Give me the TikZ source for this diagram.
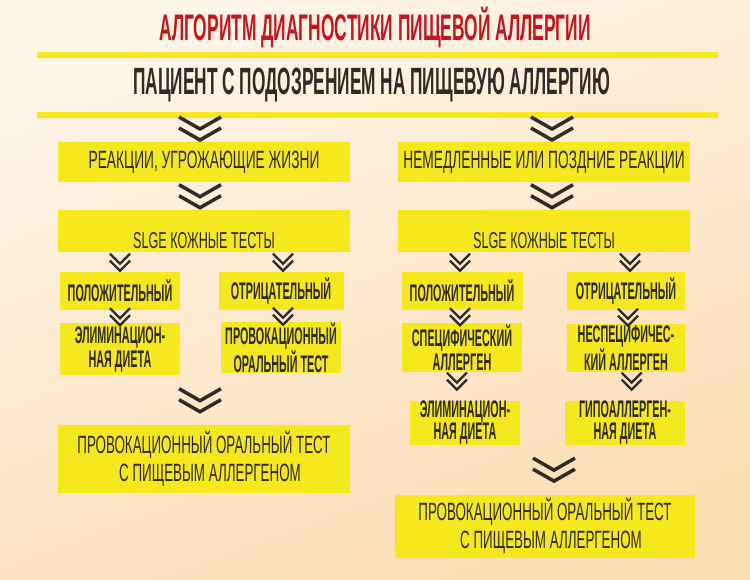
\documentclass[tikz,border=0pt]{standalone}
\usepackage{fontspec}
\usetikzlibrary{positioning,calc}

\newfontfamily\headfont{Liberation Sans}[FakeStretch=0.47]
\newfontfamily\patfont{Liberation Sans}[FakeStretch=0.455]
\newfontfamily\boldfont{Liberation Sans}[FakeStretch=0.45]
\newfontfamily\plainfont{Liberation Sans}[FakeStretch=0.55]
\newfontfamily\finalfont{Liberation Sans}[FakeStretch=0.535]

\definecolor{alyellow}{HTML}{F5E91E}
\definecolor{alink}{HTML}{2F2A26}
\definecolor{alred}{HTML}{C8141E}
\definecolor{bgtop}{HTML}{FDF5E8}
\definecolor{bgbot}{HTML}{FCDDB5}

\begin{document}
\begin{tikzpicture}[x=1pt, y=-1pt, inner sep=0pt]

    \tikzstyle{headtxt} = [text=alink, font=\headfont\bfseries\fontsize{37}{37}\selectfont]
    \tikzstyle{bar}     = [draw=alyellow, line width=6pt]
    \tikzstyle{bigbox}  = [rectangle, fill=alyellow, text=alink, align=center, minimum width=292pt, minimum height=40pt, font=\plainfont\fontsize{25}{28}\selectfont]
    \tikzstyle{testbox} = [bigbox, minimum height=0pt, text height=34pt, text depth=0pt, inner ysep=4pt, font=\plainfont\fontsize{23}{26}\selectfont]
    \tikzstyle{smallbox} = [rectangle, fill=alyellow, text=alink, align=center, minimum height=38pt, font=\boldfont\bfseries\fontsize{24}{24}\selectfont]
    \tikzstyle{tightbox} = [smallbox, font=\boldfont\bfseries\fontsize{24}{22}\selectfont]
    \tikzstyle{finalbox} = [bigbox, minimum height=68pt, font=\finalfont\fontsize{25}{28}\selectfont]

    \tikzset{bigchev/.pic={\draw[alink, line width=3.5pt] (-21,-11.5) -- (0,0.5) -- (21,-11.5) (-21,-0.5) -- (0,11.5) -- (21,-0.5);},
             smallchev/.pic={\draw[alink, line width=2.3pt] (-10,-8.5) -- (0,1.5) -- (10,-8.5) (-10,-1.5) -- (0,8.5) -- (10,-1.5);}}

    % background
    \shade[top color=bgtop, bottom color=bgbot, shading angle=20] (0,0) rectangle (750,579);
    \useasboundingbox (0,0) rectangle (750,579);

    \node (title)   [headtxt, text=alred]                                    at (375,27)    {АЛГОРИТМ ДИАГНОСТИКИ ПИЩЕВОЙ АЛЛЕРГИИ};
    \node (patient) [headtxt, minimum width=681pt, minimum height=60pt, font=\patfont\bfseries\fontsize{38}{38}\selectfont] at (377.5,85) {\hspace*{-12pt}ПАЦИЕНТ С ПОДОЗРЕНИЕМ НА ПИЩЕВУЮ АЛЛЕРГИЮ};
    \draw[bar] (patient.north west) -- (patient.north east);
    \draw[bar] (patient.south west) -- (patient.south east);

    % left branch
    \node (lreact)  [bigbox]                                                 at (204,162)   {РЕАКЦИИ, УГРОЖАЮЩИЕ ЖИЗНИ};
    \node (ltest)   [testbox, below=28pt of lreact]                                         {SLGE КОЖНЫЕ ТЕСТЫ};
    \node (lpos)    [smallbox, minimum width=120pt]                          at (120,291)   {ПОЛОЖИТЕЛЬНЫЙ};
    \node (lneg)    [smallbox, minimum width=125pt]                          at (281,291)   {ОТРИЦАТЕЛЬНЫЙ};
    \node (lelim)   [smallbox, minimum width=120pt, minimum height=52pt, below=13pt of lpos] {ЭЛИМИНАЦИОН-\\НАЯ ДИЕТА};
    \node (lprov)   [smallbox, minimum width=120pt, minimum height=51pt, below=12pt of lneg] {ПРОВОКАЦИОННЫЙ\\ОРАЛЬНЫЙ ТЕСТ};
    \node (lfinal)  [finalbox]                                               at (204,459)   {ПРОВОКАЦИОННЫЙ ОРАЛЬНЫЙ ТЕСТ\\\hspace*{12pt}С ПИЩЕВЫМ АЛЛЕРГЕНОМ};

    % right branch
    \node (rreact)  [bigbox]                                                 at (544,162)   {НЕМЕДЛЕННЫЕ ИЛИ ПОЗДНИЕ РЕАКЦИИ};
    \node (rtest)   [testbox, below=28pt of rreact]                                         {SLGE КОЖНЫЕ ТЕСТЫ};
    \node (rpos)    [smallbox, minimum width=121pt]                          at (462,291)   {ПОЛОЖИТЕЛЬНЫЙ};
    \node (rneg)    [smallbox, minimum width=118pt]                          at (626,291)   {ОТРИЦАТЕЛЬНЫЙ};
    \node (rspec)   [smallbox, minimum width=120pt, minimum height=49pt, below=13pt of rpos] {СПЕЦИФИЧЕСКИЙ\\АЛЛЕРГЕН};
    \node (rnon)    [smallbox, minimum width=118pt, minimum height=48pt, below=14pt of rneg] {НЕСПЕЦИФИЧЕС-\\КИЙ АЛЛЕРГЕН};
    \node (relim)   [tightbox, minimum width=110pt, minimum height=39pt]     at (465,423)   {ЭЛИМИНАЦИОН-\\НАЯ ДИЕТА};
    \node (rhypo)   [tightbox, minimum width=120pt, minimum height=39pt]     at (625,423)   {ГИПОАЛЛЕРГЕН-\\НАЯ ДИЕТА};
    \node (rfinal)  [finalbox, minimum width=300pt, minimum height=63pt]     at (545,526)   {ПРОВОКАЦИОННЫЙ ОРАЛЬНЫЙ ТЕСТ\\\hspace*{12pt}С ПИЩЕВЫМ АЛЛЕРГЕНОМ};

    % chevrons
    \path (patient.south -| lreact) -- (lreact.north)   pic[midway, xshift=-4pt] {bigchev};
    \path (lreact.south)  -- (ltest.north)              pic[midway, xshift=-4pt] {bigchev};
    \path (ltest.south -| lpos) -- (lpos.north)         pic[midway]              {smallchev};
    \path (ltest.south -| lneg) -- (lneg.north)         pic[midway, xshift=2pt]  {smallchev};
    \path (lpos.south)    -- (lelim.north)              pic[midway]              {smallchev};
    \path (lneg.south)    -- (lprov.north)              pic[midway, xshift=2pt]  {smallchev};
    \path (lelim.south -| lfinal) -- (lfinal.north)     pic[midway, xshift=-4pt] {bigchev};

    \path (patient.south -| rreact) -- (rreact.north)   pic[midway, xshift=8pt]  {bigchev};
    \path (rreact.south)  -- (rtest.north)              pic[midway, xshift=8pt]  {bigchev};
    \path (rtest.south -| rpos) -- (rpos.north)         pic[midway, xshift=-2pt] {smallchev};
    \path (rtest.south -| rneg) -- (rneg.north)         pic[midway, xshift=4pt]  {smallchev};
    \path (rpos.south)    -- (rspec.north)              pic[midway, xshift=-2pt] {smallchev};
    \path (rneg.south)    -- (rnon.north)               pic[midway, xshift=2pt]  {smallchev};
    \path (rspec.south)   -- (relim.north)              pic[pos=0.3, xshift=-6pt] {smallchev};
    \path (rnon.south)    -- (rhypo.north)              pic[pos=0.3, xshift=6pt] {smallchev};
    \path (relim.south -| rfinal) -- (rfinal.north)     pic[midway, xshift=9pt]  {bigchev};

\end{tikzpicture}
\end{document}
